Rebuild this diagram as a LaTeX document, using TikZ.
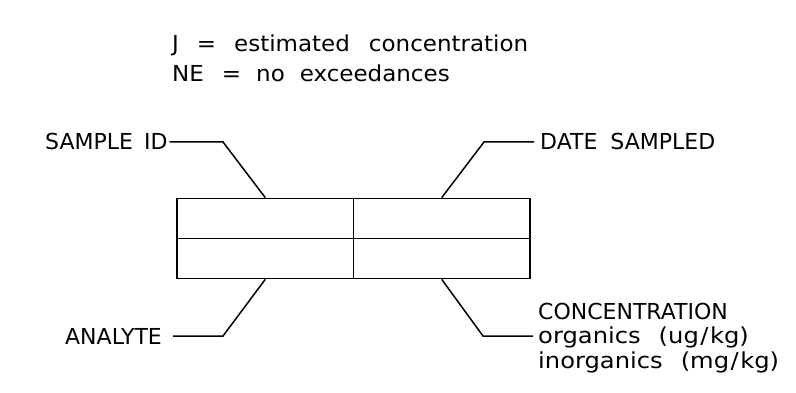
\documentclass[tikz,border=0pt]{standalone}
\usepackage{fontspec}
\setmainfont{DejaVu Sans}
\newfontfamily\legendfont[FakeStretch=1.045]{DejaVu Sans}
\newfontfamily\unitfont[FakeStretch=1.10]{DejaVu Sans}
\newcommand\sk{\kern1.5pt}
\begin{document}
\begin{tikzpicture}[x=1pt,y=-1pt,
  cell/.style={draw, line width=1.8pt, minimum width=176.5pt, minimum height=40pt, inner sep=0pt},
  lead/.style={line width=1.5pt, line join=miter},
  caps/.style={inner sep=0pt, text height=16pt, text depth=0pt, font=\fontsize{22}{24}\selectfont},
  legend/.style={inner sep=0pt, font=\legendfont\fontsize{22}{24}\selectfont},
  units/.style={inner sep=0pt, font=\unitfont\fontsize{22}{24}\selectfont}]
\useasboundingbox (0,0) rectangle (796,393);

% legend
\node[legend, anchor=base west] (jline) at (172,51.5)
  {J\hspace{18pt}=\hspace{18pt}estimated\hspace{19pt}concentration};
\node[legend, anchor=base west] (neline) at (172,82)
  {NE\hspace{18pt}=\hspace{15pt}no\hspace{15pt}exceedances};

% the four-cell label box
\node[cell] (c11) at (265.25,218.5) {};
\node[cell] (c12) at (441.75,218.5) {};
\node[cell] (c21) at (265.25,258.5) {};
\node[cell] (c22) at (441.75,258.5) {};

% sample id
\node[caps, anchor=west] (sid) at (45,142) {SAMPLE\hspace{11pt}ID};
\coordinate (sidb) at (223,142);
\draw[lead, shorten <=2pt] (sid.east) -- (sidb) -- (c11.north);

% date sampled
\node[caps, anchor=west] (ds) at (540,142) {DATE\hspace{13pt}SAMPLED};
\coordinate (dsb) at (484,142);
\draw[lead, shorten >=6pt] (c12.north) -- (dsb) -- (ds.west);

% analyte
\node[caps, anchor=west] (an) at (65,336) {ANALYTE};
\coordinate (anb) at (223,336);
\draw[lead, shorten <=11pt] (an.east) -- (anb) -- (c21.south);

% concentration
\node[caps, anchor=base west] (cc1) at (538,319) {CONCENTRATION};
\node[units, anchor=base west] (cc2) at (538,343.5) {organics\hspace{18pt}(ug\sk/\sk kg)};
\node[units, anchor=base west] (cc3) at (538,368) {inorganics\hspace{18pt}(mg\sk/\sk kg)};
\coordinate (ccb) at (483,336);
\draw[lead, shorten >=5pt] (c22.south) -- (ccb) -- (ccb -| cc2.west);
\end{tikzpicture}
\end{document}
